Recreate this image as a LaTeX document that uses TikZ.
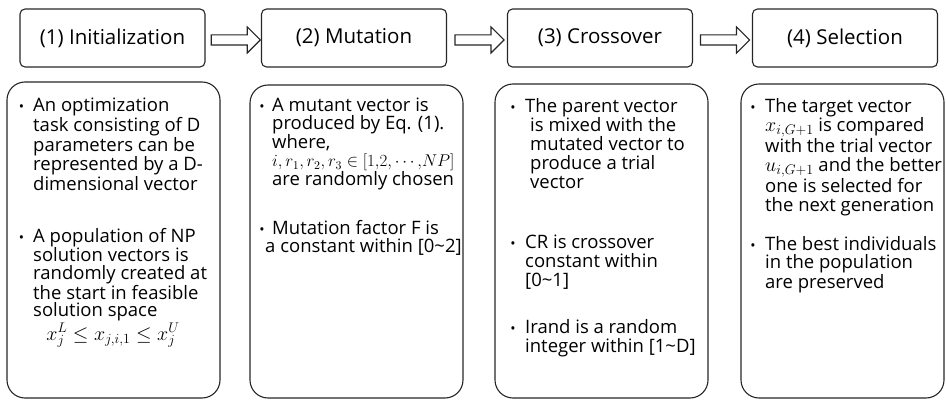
\RequirePackage{fix-cm}
\documentclass[tikz,border=0pt]{standalone}
\usepackage{fontspec}
\setmainfont{Open Sans}
\usetikzlibrary{shapes.arrows,calc}
\newcommand{\bodyfont}[1]{\fontsize{18.5}{#1}\selectfont}
\newcommand{\tl}{\textasciitilde}
\newcommand{\mth}[2]{\mbox{\fontsize{#1}{17}\selectfont$#2$}}
\tikzset{
  topbox/.style={draw=black!85, line width=1.1pt, rounded corners=5pt, minimum width=185pt, minimum height=58pt, inner sep=0pt, font=\fontsize{20.5}{24}\selectfont},
  botbox/.style={draw=black!85, line width=1.1pt, rounded corners=18pt, inner sep=0pt},
  fatarrow/.style={single arrow, draw=black!85, fill=white, line width=1.1pt, inner sep=4.5pt, single arrow head extend=8pt, minimum height=49pt, single arrow tip angle=90},
  para/.style={inner sep=0pt, anchor=base west},
  bul/.style={inner sep=0pt, anchor=base, font=\fontsize{14}{14}\selectfont},
}
\begin{document}
\begin{tikzpicture}[x=1pt,y=-1pt]
\useasboundingbox (0,0) rectangle (946,401);
% top boxes
\node[topbox] (t1) at (112.5,38) {(1) Initialization};
\node[topbox] (t2) at (354,38) {(2) Mutation};
\node[topbox] (t3) at (600,38) {(3) Crossover};
\node[topbox] (t4) at (845,38) {(4) Selection};
% arrows
\node[fatarrow] (a1) at ([yshift=-2pt]$(t1.east)!0.5!(t2.west)$) {};
\node[fatarrow] (a2) at ([yshift=-2pt]$(t2.east)!0.5!(t3.west)$) {};
\node[fatarrow] (a3) at ([yshift=-2pt]$(t3.east)!0.5!(t4.west)$) {};
% bottom boxes
\node[botbox, minimum width=213pt, minimum height=316pt] (b1) at (113.5,240) {};
\node[botbox, minimum width=213pt, minimum height=313pt] (b2) at (356.5,241.5) {};
\node[botbox, minimum width=213pt, minimum height=314pt] (b3) at (601.5,241) {};
\node[botbox, minimum width=203pt, minimum height=314pt] (b4) at (842.5,241) {};
% box 1 text
\node[bul] (u11) at (21.5,112) {•};
\node[para] (p11) at (33,112) {\parbox[t]{250pt}{\bodyfont{17.5}An optimization\\task consisting of D\\parameters can be\\represented by a D-\\dimensional vector}};
\node[bul] (u12) at (21.5,242.5) {•};
\node[para] (p12) at (33,242.5) {\parbox[t]{250pt}{\bodyfont{17.5}A population of NP\\solution vectors is\\randomly created at\\the start in feasible\\solution space}};
\node[inner sep=0pt, anchor=base] (m1) at (113,340) {\mth{20}{x_j^L \le x_{j,i,1} \le x_j^U}};
% box 2 text
\node[bul] (u21) at (262,112) {•};
\node[para] (p21) at (272,112) {\parbox[t]{250pt}{\bodyfont{17.5}A mutant vector is\\produced by Eq. (1).\\where,\\\mth{17}{i, r_1, r_2, r_3 \in [1{,}2{,}\cdots{,}NP]}\\are randomly chosen}};
\node[bul] (u22) at (262,234) {•};
\node[para] (p22) at (272,234) {\parbox[t]{250pt}{\bodyfont{18}Mutation factor F is\\\hspace*{-7pt}a constant within [0\tl2]}};
% box 3 text
\node[bul] (u31) at (513,113) {•};
\node[para] (p31) at (525,113) {\parbox[t]{250pt}{\bodyfont{19}The parent vector\\\hspace*{5pt}is mixed with the\\\hspace*{5pt}mutated vector to\\\hspace*{5pt}produce a trial\\\hspace*{5pt}vector}};
\node[bul] (u32) at (513,248) {•};
\node[para] (p32) at (525,248) {\parbox[t]{250pt}{\bodyfont{19}CR is crossover\\constant within\\{[0\tl1]}}};
\node[bul] (u33) at (513,333) {•};
\node[para] (p33) at (525,333) {\parbox[t]{250pt}{\bodyfont{19}Irand is a random\\integer within [1\tl D]}};
% box 4 text
\node[bul] (u41) at (753,113) {•};
\node[para] (p41) at (765,113) {\parbox[t]{250pt}{\bodyfont{18.8}The target vector\\\mth{20}{x_{i,G+1}} is compared\\with the trial vector\\\mth{20}{u_{i,G+1}} and the better\\one is selected for\\the next generation}};
\node[bul] (u42) at (753,251) {•};
\node[para] (p42) at (765,251) {\parbox[t]{250pt}{\bodyfont{18}The best individuals\\in the population\\are preserved}};
\end{tikzpicture}
\end{document}
